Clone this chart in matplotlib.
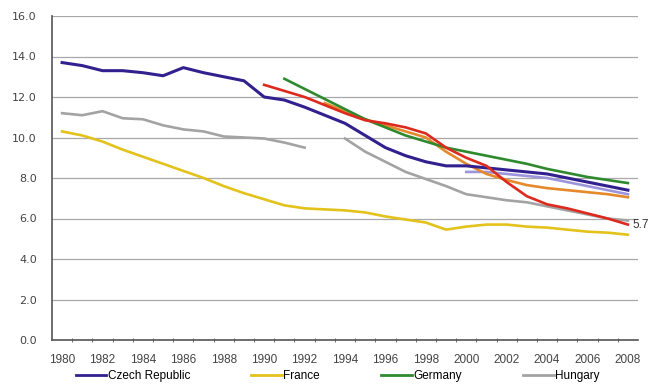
import numpy as np
import matplotlib
matplotlib.use("Agg")
import matplotlib.pyplot as plt

plt.rcParams['font.family'] = ['Liberation Sans', 'DejaVu Sans']

years = list(range(1980, 2009))
nan = np.nan

czech = [13.7, 13.55, 13.3, 13.3, 13.2, 13.05, 13.45, 13.2, 13.0, 12.8,
         12.0, 11.85, 11.5, 11.1, 10.7, 10.1, 9.5, 9.1, 8.8, 8.6,
         8.6, 8.5, 8.4, 8.3, 8.2, 8.0, 7.8, 7.6, 7.4]
france = [10.3, 10.1, 9.8, 9.4, 9.05, 8.7, 8.35, 8.0, 7.6, 7.25,
          6.95, 6.65, 6.5, 6.45, 6.4, 6.3, 6.1, 5.95, 5.8, 5.45,
          5.6, 5.7, 5.7, 5.6, 5.55, 5.45, 5.35, 5.3, 5.2]
germany = [nan] * 11 + [12.9, 12.4, 11.9, 11.4, 10.9, 10.5, 10.1, 9.8, 9.5,
                        9.3, 9.1, 8.9, 8.7, 8.45, 8.25, 8.05, 7.9, 7.75]
hungary = [11.2, 11.1, 11.3, 10.95, 10.9, 10.6, 10.4, 10.3, 10.05, 10.0,
           9.95, 9.75, 9.5, nan, 9.95, 9.3, 8.8, 8.3, 7.95, 7.6,
           7.2, 7.05, 6.9, 6.8, 6.6, 6.4, 6.2, 6.0, 5.9]
red_series = [nan] * 10 + [12.6, 12.3, 12.0, 11.6, 11.2, 10.85, 10.7, 10.5, 10.2, 9.5,
                           9.0, 8.6, 7.8, 7.1, 6.7, 6.5, 6.25, 6.0, 5.7]
orange_series = [nan] * 13 + [11.7, 11.3, 10.9, 10.6, 10.3, 10.0, 9.3,
                              8.7, 8.2, 7.9, 7.65, 7.5, 7.4, 7.3, 7.2, 7.05]
lavender_series = [nan] * 20 + [8.3, 8.3, 8.2, 8.1, 8.0, 7.8, 7.6, 7.4, 7.2]

legend_names = ['Czech Republic', 'France', 'Germany', 'Hungary']
end_label = '5.7'
y_ticks = [0, 2, 4, 6, 8, 10, 12, 14, 16]

fig = plt.figure(figsize=(6.48, 3.85), dpi=100)
ax = fig.add_axes([52/648, 1-340/385, 586/648, (340-16)/385])

fs = 8.5
ax.set_xlim(1979.5, 2008.5)
ax.set_ylim(0, 16)
ax.set_yticks(y_ticks)
ax.set_yticklabels([f'{v:.1f}' for v in y_ticks], fontsize=8, color='#444444',
                   family=['DejaVu Sans'])
ax.set_xticks(years[::2])
ax.set_xticklabels([str(y) for y in years[::2]], fontsize=fs, color='#444444')
ax.set_xticks([y + 0.5 for y in years[:-1]], minor=True)
ax.tick_params(axis='x', which='major', length=0, pad=10)
ax.tick_params(axis='x', which='minor', length=3, direction='inout', color='#555555')
ax.tick_params(axis='y', length=0, pad=11)

ax.grid(axis='y', color='#a8a8a8', linewidth=0.9)
ax.set_axisbelow(True)
for s in ['top', 'right']:
    ax.spines[s].set_visible(False)
ax.spines['left'].set_color('#555555')
ax.spines['bottom'].set_color('#555555')
ax.spines['left'].set_linewidth(1.2)
ax.spines['bottom'].set_linewidth(1.2)

lw = 1.9
ax.plot(years, hungary, color='#a3a3a3', lw=lw)
ax.plot(years, france, color='#e3c21c', lw=lw)
ax.plot(years, lavender_series, color='#9d95dc', lw=lw)
ax.plot(years, orange_series, color='#e5892a', lw=lw)
ax.plot(years, germany, color='#2f8a2f', lw=lw)
ax.plot(years, czech, color='#33208f', lw=2.2)
ax.plot(years, red_series, color='#dd2a1f', lw=lw)

ax.text(2008.25, red_series[-1], end_label, fontsize=fs, color='#333333',
        va='center', ha='left', clip_on=False)

handles = [plt.Line2D([], [], color=c, lw=2) for c in
           ['#33208f', '#e3c21c', '#2f8a2f', '#a3a3a3']]
fig.legend(handles, legend_names, loc='center', bbox_to_anchor=(0.521, 1-376/385),
           ncol=4, frameon=False, fontsize=fs, handlelength=2.6, handletextpad=0.1,
           columnspacing=5.2, borderpad=0)

fig.savefig('out.png', dpi=100)
